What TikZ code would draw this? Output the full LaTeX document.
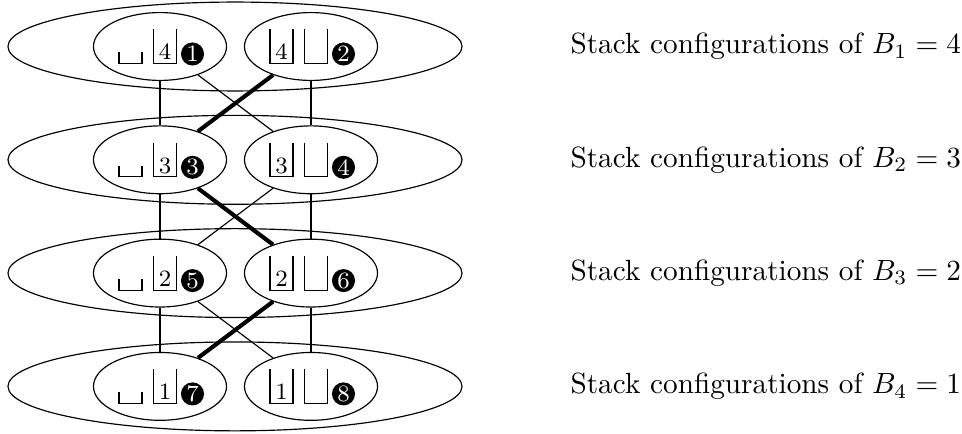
\documentclass[tikz,border=0pt]{standalone}
\usetikzlibrary{shapes.geometric}
\begin{document}
\begin{tikzpicture}[x=0.342pt,y=-0.342pt,
  outer/.style={draw,ellipse,line width=0.4pt,inner sep=0pt,minimum width=155.3pt,minimum height=30.4pt},
  inner/.style={draw,ellipse,line width=0.4pt,inner sep=0pt,minimum width=45.5pt,minimum height=23.2pt},
  num/.style={circle,fill=black,text=white,inner sep=0pt,minimum size=7.9pt,font=\footnotesize},
  digit/.style={inner sep=0pt,anchor=base,font=\footnotesize},
  link/.style={line width=0.4pt},
  thicklink/.style={line width=1.4pt},
  lbl/.style={anchor=west,inner sep=0pt},
  pics/tallbox/.style={code={
    \draw[line width=0.4pt] (-11.5,-17) -- (-11.5,17) -- (11.5,17) -- (11.5,-17);
    \node[digit] (-d) at (0,13.5) {#1};}},
  pics/shortbox/.style={code={
    \draw[line width=0.4pt] (-11.5,6) -- (-11.5,17) -- (11.5,17) -- (11.5,6);}}
]
\useasboundingbox (0,0) rectangle (962,434);
\foreach \r in {1,...,4}{
  \pgfmathsetmacro\yy{46.5+113.3*(\r-1)}
  \pgfmathtruncatemacro\d{5-\r}
  \pgfmathtruncatemacro\a{2*\r-1}
  \pgfmathtruncatemacro\b{2*\r}
  \node[outer] (O\r) at (235,\yy) {};
  \node[inner] (L\r) at (160,\yy) {};
  \node[inner] (R\r) at (311,\yy) {};
  \pic (la\r) at (130.5,\yy) {shortbox};
  \pic (lb\r) at (165,\yy) {tallbox={\d}};
  \node[num] (c\a) at (192.5,\yy+7.5) {\a};
  \pic (ra\r) at (281.5,\yy) {tallbox={\d}};
  \pic (rb\r) at (316,\yy) {tallbox={}};
  \node[num] (c\b) at (343.5,\yy+7.5) {\b};
  \node[lbl] (t\r) at (570,\yy) {Stack configurations of $B_{\r} = \d$};
}
\draw[link] (L1) -- (L2);
\draw[link] (R1) -- (R2);
\draw[link] (L1) -- (R2);
\draw[thicklink] (R1) -- (L2);
\draw[link] (L2) -- (L3);
\draw[link] (R2) -- (R3);
\draw[link] (R2) -- (L3);
\draw[thicklink] (L2) -- (R3);
\draw[link] (L3) -- (L4);
\draw[link] (R3) -- (R4);
\draw[link] (L3) -- (R4);
\draw[thicklink] (R3) -- (L4);
\end{tikzpicture}
\end{document}
